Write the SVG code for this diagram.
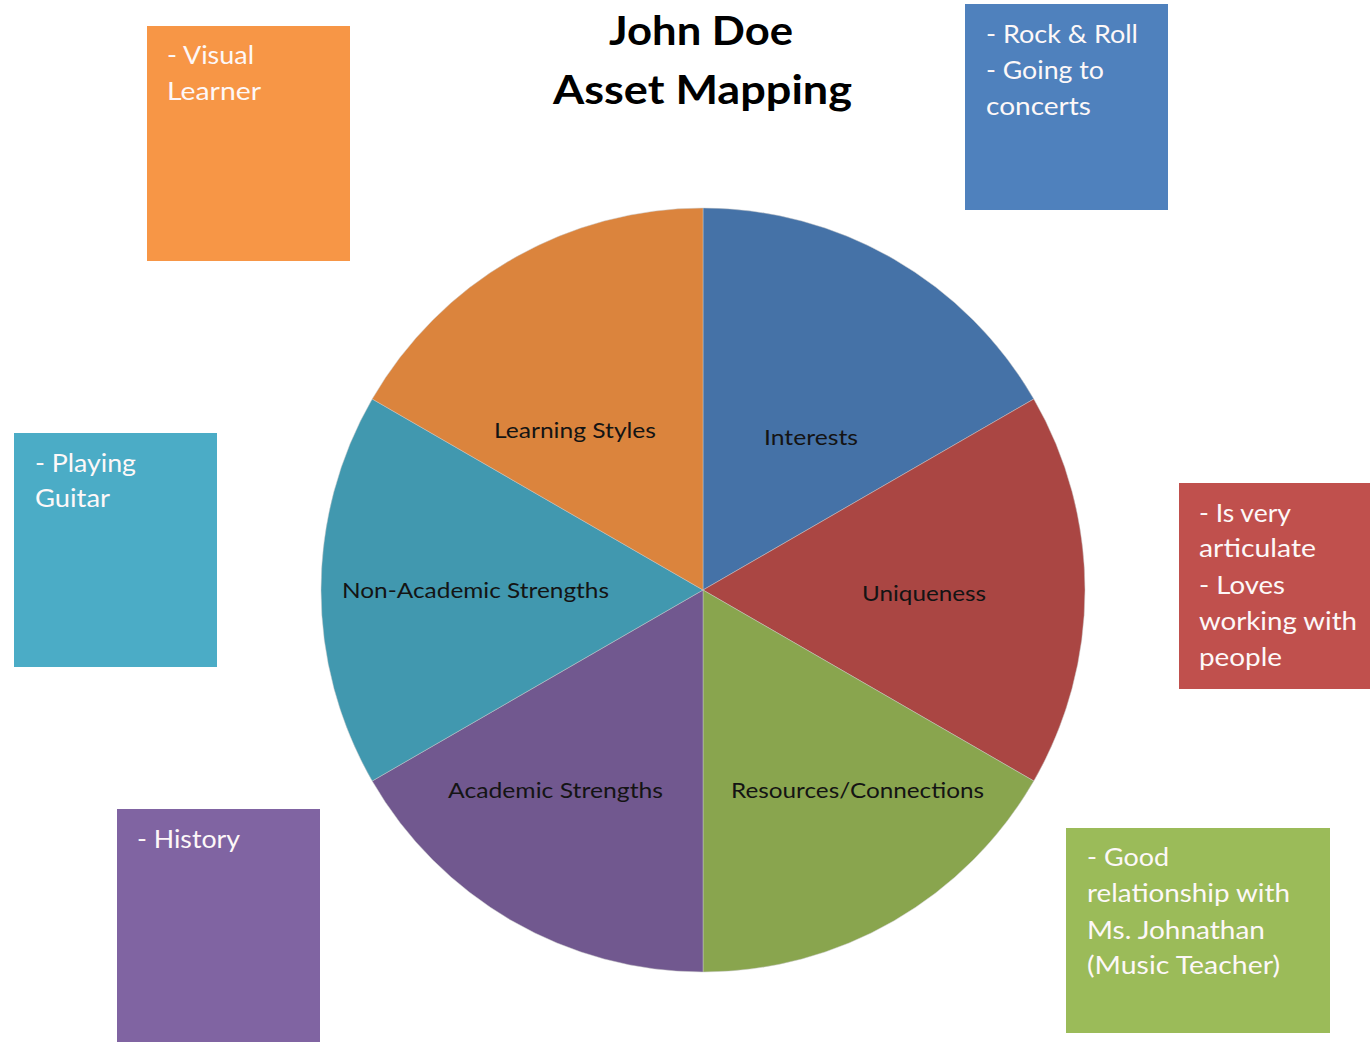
<svg xmlns="http://www.w3.org/2000/svg" width="1370" height="1042" viewBox="0 0 1370 1042">
  <style>
    .title { font-family: Lato, "Liberation Sans", sans-serif; font-weight: 700; font-size: 40px; fill: #000; }
    .wedge { stroke: #c8c8c8; stroke-width: 0.8; stroke-opacity: 0.6; }
    .slabel { font-family: Lato, "Liberation Sans", sans-serif; font-size: 21px; fill: #141414; }
    .note { stroke: none; }
    .ntext { font-family: Lato, "Liberation Sans", sans-serif; font-size: 25px; fill: #fdf8f8; }
  </style>
  <rect width="1370" height="1042" fill="#fff"/>

  <!-- title -->
  <g id="title">
    <text class="title" x="609" y="45" textLength="184" lengthAdjust="spacingAndGlyphs">John Doe</text>
    <text class="title" x="553" y="104" textLength="299" lengthAdjust="spacingAndGlyphs">Asset Mapping</text>
  </g>

  <!-- pie: centre (703,590), radius 382, six 60-degree wedges -->
  <g id="pie">
    <g id="wedge-interests">
      <path class="wedge" fill="#4572A7" d="M703,590 L703,208 A382,382 0 0 1 1033.8,399 Z"/>
      <text class="slabel" x="764" y="445" textLength="94" lengthAdjust="spacingAndGlyphs">Interests</text>
    </g>
    <g id="wedge-uniqueness">
      <path class="wedge" fill="#AA4643" d="M703,590 L1033.8,399 A382,382 0 0 1 1033.8,781 Z"/>
      <text class="slabel" x="862" y="601" textLength="124" lengthAdjust="spacingAndGlyphs">Uniqueness</text>
    </g>
    <g id="wedge-resources">
      <path class="wedge" fill="#89A54E" d="M703,590 L1033.8,781 A382,382 0 0 1 703,972 Z"/>
      <text class="slabel" x="731" y="798" textLength="253" lengthAdjust="spacingAndGlyphs">Resources/Connections</text>
    </g>
    <g id="wedge-academic">
      <path class="wedge" fill="#71588F" d="M703,590 L703,972 A382,382 0 0 1 372.2,781 Z"/>
      <text class="slabel" x="448" y="798" textLength="215" lengthAdjust="spacingAndGlyphs">Academic Strengths</text>
    </g>
    <g id="wedge-nonacademic">
      <path class="wedge" fill="#4198AF" d="M703,590 L372.2,781 A382,382 0 0 1 372.2,399 Z"/>
      <text class="slabel" x="342" y="598" textLength="267" lengthAdjust="spacingAndGlyphs">Non-Academic Strengths</text>
    </g>
    <g id="wedge-learning">
      <path class="wedge" fill="#DB843D" d="M703,590 L372.2,399 A382,382 0 0 1 703,208 Z"/>
      <text class="slabel" x="494" y="438" textLength="162" lengthAdjust="spacingAndGlyphs">Learning Styles</text>
    </g>
  </g>

  <!-- note boxes -->
  <g id="note-learning">
    <rect class="note" x="147" y="26" width="203" height="235" fill="#F79646"/>
    <text class="ntext" x="167" y="64" textLength="87" lengthAdjust="spacingAndGlyphs">- Visual</text>
    <text class="ntext" x="167" y="100" textLength="94" lengthAdjust="spacingAndGlyphs">Learner</text>
  </g>

  <g id="note-interests">
    <rect class="note" x="965" y="4" width="203" height="206" fill="#4F81BD"/>
    <text class="ntext" x="986" y="43" textLength="152" lengthAdjust="spacingAndGlyphs">- Rock &amp; Roll</text>
    <text class="ntext" x="986" y="79" textLength="118" lengthAdjust="spacingAndGlyphs">- Going to</text>
    <text class="ntext" x="986" y="115" textLength="105" lengthAdjust="spacingAndGlyphs">concerts</text>
  </g>

  <g id="note-nonacademic">
    <rect class="note" x="14" y="433" width="203" height="234" fill="#4BACC6"/>
    <text class="ntext" x="35" y="472" textLength="101" lengthAdjust="spacingAndGlyphs">- Playing</text>
    <text class="ntext" x="35" y="507" textLength="75" lengthAdjust="spacingAndGlyphs">Guitar</text>
  </g>

  <g id="note-uniqueness">
    <rect class="note" x="1179" y="483" width="191" height="206" fill="#C0504D"/>
    <text class="ntext" x="1199" y="522" textLength="92" lengthAdjust="spacingAndGlyphs">- Is very</text>
    <text class="ntext" x="1199" y="557" textLength="117" lengthAdjust="spacingAndGlyphs">articulate</text>
    <text class="ntext" x="1199" y="594" textLength="86" lengthAdjust="spacingAndGlyphs">- Loves</text>
    <text class="ntext" x="1199" y="630" textLength="158" lengthAdjust="spacingAndGlyphs">working with</text>
    <text class="ntext" x="1199" y="666" textLength="83" lengthAdjust="spacingAndGlyphs">people</text>
  </g>

  <g id="note-academic">
    <rect class="note" x="117" y="809" width="203" height="233" fill="#8064A2"/>
    <text class="ntext" x="137" y="848" textLength="103" lengthAdjust="spacingAndGlyphs">- History</text>
  </g>

  <g id="note-resources">
    <rect class="note" x="1066" y="828" width="264" height="205" fill="#9BBB59"/>
    <text class="ntext" x="1087" y="866" textLength="82" lengthAdjust="spacingAndGlyphs">- Good</text>
    <text class="ntext" x="1087" y="902" textLength="203" lengthAdjust="spacingAndGlyphs">relationship with</text>
    <text class="ntext" x="1087" y="939" textLength="178" lengthAdjust="spacingAndGlyphs">Ms. Johnathan</text>
    <text class="ntext" x="1087" y="974" textLength="193" lengthAdjust="spacingAndGlyphs">(Music Teacher)</text>
  </g>

  <!-- no connectors in this chart -->
  <g id="connectors"/>
</svg>
